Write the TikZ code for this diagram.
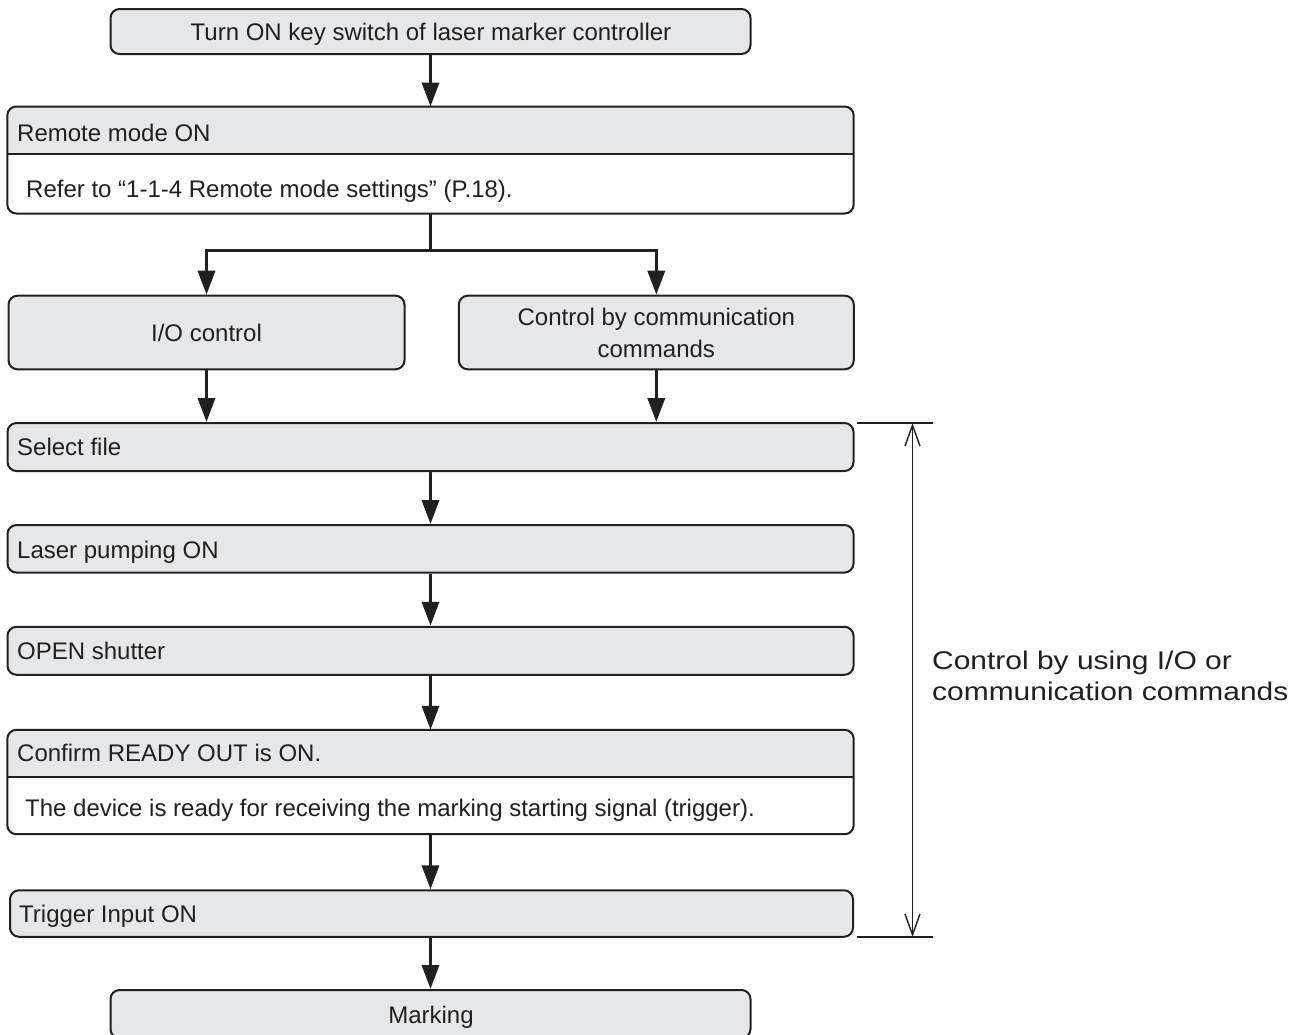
\documentclass[tikz,border=0pt]{standalone}
\usepackage{fontspec}
\setmainfont{Liberation Sans}
\newfontfamily\widefont{Liberation Sans}[FakeStretch=1.17]
\usetikzlibrary{arrows.meta}
\definecolor{boxgray}{HTML}{E6E7E8}
\definecolor{ink}{HTML}{231F20}
\begin{document}
\begin{tikzpicture}[x=1pt,y=-1pt,
  every node/.style={text=ink},
  txt/.style={font=\fontsize{24}{31}\selectfont, inner sep=0pt},
  box/.style={draw=ink, line width=2pt, rounded corners=9pt, fill=boxgray, inner sep=0pt},
  splitbox/.style={fill=white, inner sep=0pt},
  outline/.style={draw=ink, line width=2pt, rounded corners=9pt},
  flow/.style={draw=ink, line width=3.5pt, -{Triangle[length=24pt,width=17pt]}},
  trunk/.style={draw=ink, line width=3.5pt},
  dimline/.style={draw=ink, line width=2pt},
  dimarrow/.style={draw=ink, line width=1.4pt, {Straight Barb[length=21pt,width=15pt]}-{Straight Barb[length=21pt,width=15pt]}},
  side/.style={font=\widefont\fontsize{25.6}{30}\selectfont, inner sep=0pt, anchor=base west}
]
\useasboundingbox (0,0) rectangle (1306,1034);

% ---- boxes
\node[box, minimum width=640pt, minimum height=45pt] (start) at (430.5,31.5) {};
\node[txt, anchor=base] (starttxt) at (431,40) {Turn ON key switch of laser marker controller};

% Remote mode (split box)
\node[splitbox, minimum width=846pt, minimum height=106.6pt] (remote) at (430.5,160) {};
\begin{scope}
  \clip[rounded corners=9pt] (remote.north west) rectangle (remote.south east);
  \fill[boxgray] (remote.north west) rectangle (853.5,153.5);
\end{scope}
\draw[dimline] (remote.west |- 0,153.5) -- (remote.east |- 0,153.5);
\path[outline] (remote.north west) rectangle (remote.south east);
\node[txt, anchor=base west] (remotetxt) at (17,141.5) {Remote mode ON};
\node[txt, anchor=base west] (remotebody) at (26,197) {Refer to “1-1-4 Remote mode settings” (P.18).};

\node[box, minimum width=396pt, minimum height=73.6pt] (io) at (206.5,332.5) {};
\node[txt, anchor=base] (iotxt) at (206.5,341) {I/O control};

\node[box, minimum width=395pt, minimum height=73.6pt] (comm) at (656.3,332.5) {};
\node[txt, anchor=base] (commtxt1) at (656.3,325) {Control by communication};
\node[txt, anchor=base] (commtxt2) at (656.3,357) {commands};

\node[box, minimum width=846pt, minimum height=48pt] (select) at (430.5,447) {};
\node[txt, anchor=base west] (selecttxt) at (17,455.7) {Select file};

\node[box, minimum width=846pt, minimum height=47.5pt] (laser) at (430.5,548.8) {};
\node[txt, anchor=base west] (lasertxt) at (17,558.3) {Laser pumping ON};

\node[box, minimum width=846pt, minimum height=48pt] (open) at (430.5,650.8) {};
\node[txt, anchor=base west] (opentxt) at (17,659.3) {OPEN shutter};

% Confirm READY OUT (split box)
\node[splitbox, minimum width=846pt, minimum height=104pt] (confirm) at (430.5,782) {};
\begin{scope}
  \clip[rounded corners=9pt] (confirm.north west) rectangle (confirm.south east);
  \fill[boxgray] (confirm.north west) rectangle (853.5,777);
\end{scope}
\draw[dimline] (confirm.west |- 0,777) -- (confirm.east |- 0,777);
\path[outline] (confirm.north west) rectangle (confirm.south east);
\node[txt, anchor=base west] (confirmtxt) at (17,761) {Confirm READY OUT is ON.};
\node[txt, anchor=base west] (confirmbody) at (25,816) {The device is ready for receiving the marking starting signal (trigger).};

\node[box, minimum width=843pt, minimum height=46.5pt] (trigger) at (431.5,913.5) {};
\node[txt, anchor=base west] (triggertxt) at (19,922) {Trigger Input ON};

\node[box, minimum width=640pt, minimum height=48pt] (marking) at (430.5,1014) {};
\node[txt, anchor=base] (markingtxt) at (431,1023) {Marking};

% ---- connectors
\draw[flow] (start.south) -- (start.south |- remote.north);
\coordinate (split) at (430.5,250.5);
\draw[trunk] (remote.south) -- (split);
\draw[flow] (split) -| (io.north);
\draw[flow] (split) -| (comm.north);
\draw[flow] (io.south) -- (io.south |- select.north);
\draw[flow] (comm.south) -- (comm.south |- select.north);
\draw[flow] (select.south) -- (laser.north);
\draw[flow] (laser.south) -- (open.north);
\draw[flow] (open.south) -- (confirm.north);
\draw[flow] (confirm.south) -- (confirm.south |- trigger.north);
\draw[flow] (confirm.south |- trigger.south) -- (marking.north);

% ---- dimension
\coordinate (dimtopL) at (857,423);
\coordinate (dimtopR) at (933,423);
\coordinate (dimbotL) at (857,937);
\coordinate (dimbotR) at (933,937);
\coordinate (dimtop) at (912.5,423);
\coordinate (dimbot) at (912.5,937);
\draw[dimline] (dimtopL) -- (dimtopR);
\draw[dimline] (dimbotL) -- (dimbotR);
\draw[dimarrow] (dimtop) -- (dimbot);
\node[side] (side1) at (932,669) {Control by using I/O or};
\node[side] (side2) at (932,700.5) {communication commands};
\end{tikzpicture}
\end{document}
